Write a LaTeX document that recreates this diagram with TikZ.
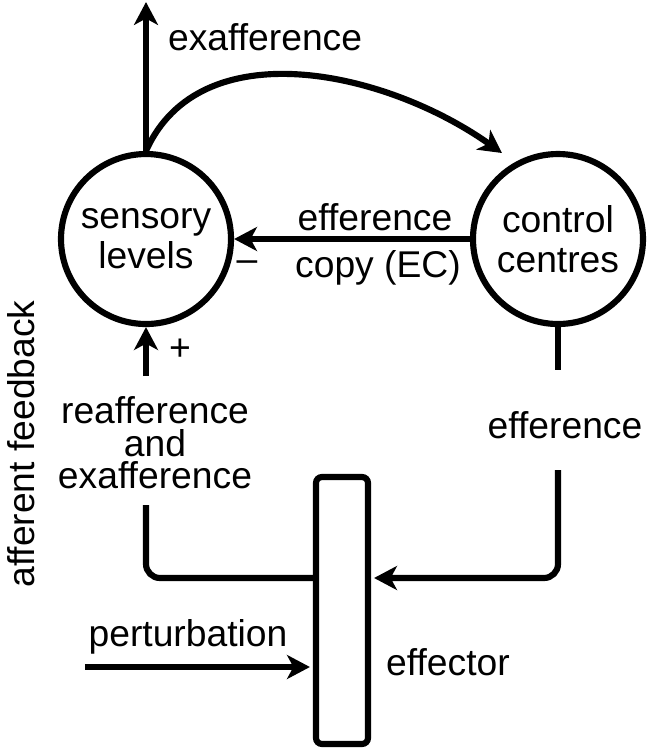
\documentclass[tikz,border=0pt]{standalone}
\usepackage{fontspec}
\setmainfont{Liberation Sans}
\usetikzlibrary{arrows.meta}

\begin{document}
\begin{tikzpicture}[line width=1.75pt,
    >={Stealth[length=6.5pt,width=6.8pt,inset=1.8pt]},
    every node/.style={font=\fontsize{10.6}{11.4}\selectfont},
    level/.style={circle, draw, minimum size=1.70cm, inner sep=0pt, align=center},
    lbl/.style={align=center, inner sep=0pt, font=\fontsize{10.6}{9.2}\selectfont}]
    \useasboundingbox (0,0) rectangle (6.54,-7.52);
    \node[level] (sl) at (1.46,-2.39) {sensory\\levels};
    \node[level] (cc) at (5.58,-2.39) {control\\centres};
    \node[draw, rounded corners=0.06cm, minimum width=0.52cm, minimum height=2.67cm,
      inner sep=0pt] (eff) at (3.42,-6.105) {};
    \coordinate (top) at (1.46,-0.02);
    \coordinate (ccin) at (5.02,-1.53);
    \coordinate (fb) at (1.46,-3.76);
    \coordinate (ccb) at (5.58,-3.70);
    \coordinate (eotop) at (5.58,-4.70);
    \coordinate (fbtop) at (1.46,-5.05);
    \coordinate (pt) at (0.85,-6.67);
    \node[lbl, anchor=west] (exl) at (1.65,-0.37) {exafference};
    \node[lbl] (efc) at (3.75,-2.17) {efference};
    \node[lbl] (cpy) at (3.78,-2.68) {copy (EC)};
    \node[lbl] (minus) at (2.47,-2.66) {\textendash};
    \node[lbl] (plus) at (1.80,-3.50) {+};
    \node[lbl] (re) at (1.55,-4.43) {reafference\\and\\exafference};
    \node[lbl] (eo) at (5.65,-4.25) {efference};
    \node[lbl] (ptl) at (1.88,-6.37) {perturbation};
    \node[lbl] (efl) at (4.48,-6.62) {effector};
    \node[lbl, rotate=90] (aff) at (0.21,-4.44) {afferent feedback};
    \draw[->] (sl.north) -- (top);
    \draw[->] (sl.north) .. controls (2.0,-0.3) and (3.85,-0.7) .. (ccin);
    \draw[->] (cc.west) -- (sl.east);
    \draw[->] (fb) -- (sl.south);
    \draw (cc.south) -- (ccb);
    \draw[->, rounded corners=0.14cm, shorten >=0.03cm] (eotop) |- ([yshift=0.325cm]eff.east);
    \draw[rounded corners=0.14cm] (fbtop) |- ([yshift=0.325cm]eff.west);
    \draw[->, shorten >=0.03cm] (pt) -- (eff.west |- pt);
  \end{tikzpicture}
\end{document}
